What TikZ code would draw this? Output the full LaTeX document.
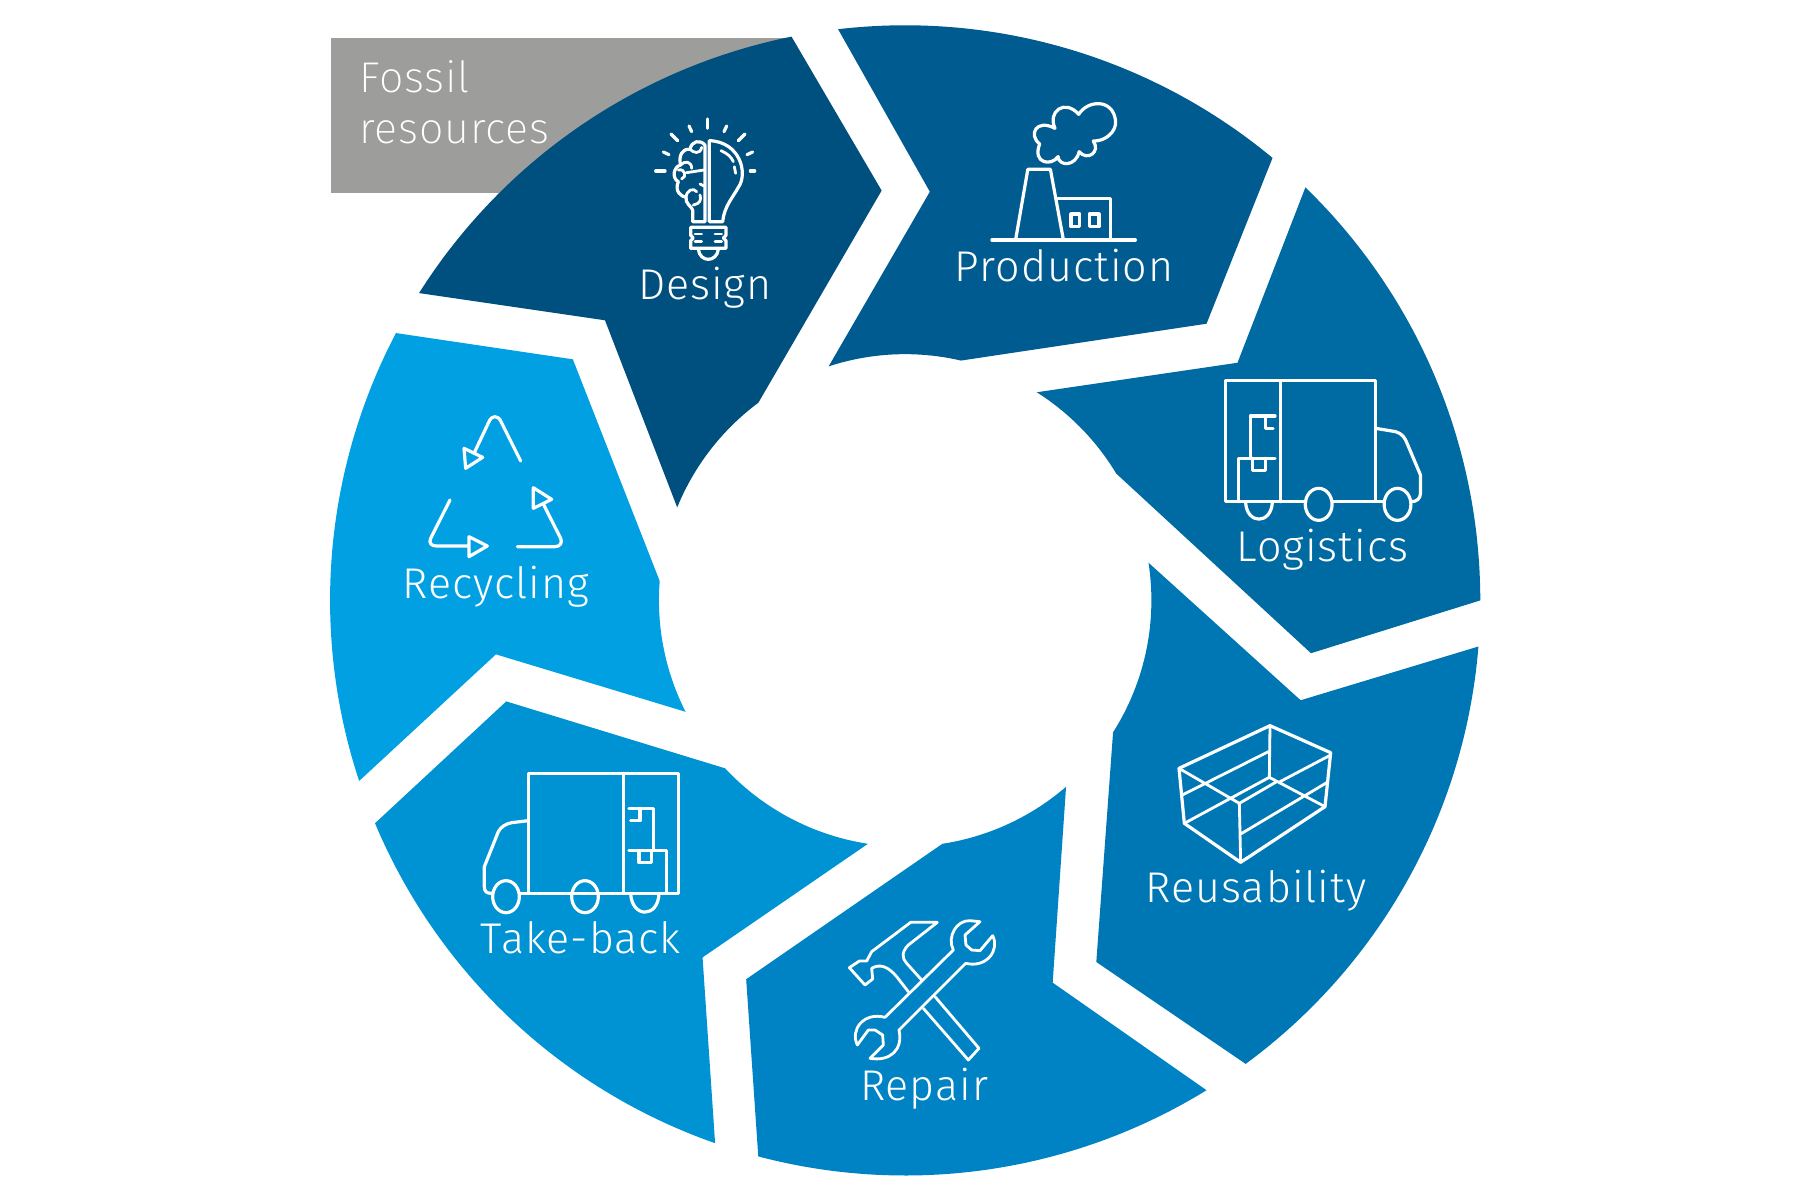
\documentclass[tikz,border=0pt]{standalone}
\usepackage{fontspec}
\setmainfont{Fira Sans Light}[LetterSpace=2.4]
\newfontfamily\thinfont{Fira Sans ExtraLight}[LetterSpace=1.8]
\definecolor{cDesign}{HTML}{00507F}
\definecolor{cProd}{HTML}{005C90}
\definecolor{cLog}{HTML}{006BA2}
\definecolor{cReuse}{HTML}{0077B5}
\definecolor{cRepair}{HTML}{0083C5}
\definecolor{cTake}{HTML}{0093D4}
\definecolor{cRecyc}{HTML}{00A0E3}
\definecolor{cGrey}{HTML}{9D9D9C}
\def\cxx{788.5}\def\cyy{523}\def\rout{501}\def\rin{214.5}
\newcommand\segm[7]{\fill[#1] plot[domain=#2:#3,samples=60]({\cxx+\rout*cos(\x)},{\cyy+\rout*sin(\x)}) -- #4 -- plot[domain=#5:#6,samples=30]({\cxx+\rin*cos(\x)},{\cyy+\rin*sin(\x)}) -- #7 -- cycle;}
\tikzset{
 lbl/.style={text=white,anchor=base,inner sep=0pt,font=\fontsize{43}{43}\selectfont},
 fossil/.style={text=white,anchor=base west,inner sep=0pt,font=\thinfont\fontsize{43}{43}\selectfont},
 icon/.style={draw=white,line width=3.2pt,line cap=round,line join=round},
 iconthin/.style={draw=white,line width=2.8pt,line cap=round,line join=round},
}
\begin{document}
\begin{tikzpicture}[x=1.14796pt,y=-1.14796pt]
\useasboundingbox (0,0) rectangle (1568,1045.33);
\fill[white] (0,0) rectangle (1568,1045.33);
\fill[cGrey] (288,33) rectangle (690,168);
\node[fossil] (fossil1) at (313,81) {Fossil};
\node[fossil] (fossil2) at (313,125) {resources};
% segments
\segm{cDesign}{258.6}{212.3}{(527,279)}{202.2}{233.4}{(768,166)}
\segm{cProd}{263.3}{309.7}{(1051,282)}{283.1}{251.9}{(810,167)}
\segm{cLog}{-45.9}{0}{(1142,569)}{-31}{-57.7}{(1078,316)}
\segm{cReuse}{4.6}{53.7}{(955,838)}{32.4}{-8.8}{(1133,610)}
\segm{cRepair}{58.4}{104.8}{(650,853)}{81.3}{49.2}{(917,856)}
\segm{cTake}{109.3}{157.2}{(441,611)}{137}{98.7}{(612,834)}
\segm{cRecyc}{161.7}{207.7}{(499,313)}{184.5}{153.1}{(432,570)}
% labels
\node[lbl] (design) at (614,261) {Design};
\node[lbl] (production) at (927,245) {Production};
\node[lbl] (logistics) at (1152,489) {Logistics};
\node[lbl] (reusability) at (1094,786) {Reusability};
\node[lbl] (repair) at (805,959) {Repair};
\node[lbl] (takeback) at (506,831) {Take-back};
\node[lbl] (recycling) at (432,521) {Recycling};
% bulb
\begin{scope}[shift={(650pt,-110pt)},x=0.33333pt,y=-0.33333pt]
\foreach \a/\b/\c/\d in {173/27/173/55,117/48/125/65,230/48/222/65,63/72/83/92,285/72/265/92,40/126/57/134,308/126/291/134,17/183/45/183,301/183/314/183}
  \draw[icon] (\a,\b)--(\c,\d);
\draw[icon] (178,92)--(178,335)--(218,335) .. controls (222,290) and (250,260) .. (265,232) .. controls (295,190) and (270,95) .. (178,92);
\draw[iconthin] (213,122) .. controls (232,130) and (245,142) .. (250,155);
\draw[iconthin] (253,170)--(257,190);
\draw[icon] (165,105)--(165,335)--(128,335)--(128,300) .. controls (125,290) and (105,280) .. (108,262) .. controls (95,260) and (72,245) .. (85,215) .. controls (65,205) and (70,170) .. (92,165) .. controls (85,140) and (95,115) .. (120,118) .. controls (125,92) and (150,88) .. (165,105);
\draw[iconthin] (120,118) .. controls (130,128) and (150,135) .. (155,112);
\draw[iconthin] (92,165) .. controls (105,150) and (125,155) .. (125,175);
\draw[iconthin] (85,180) .. controls (105,175) and (112,200) .. (95,207);
\draw[iconthin] (110,188)--(162,180);
\draw[iconthin] (108,262) .. controls (110,240) and (130,232) .. (140,245);
\draw[iconthin] (130,285) .. controls (150,282) and (155,268) .. (150,255);
\draw[iconthin] (150,222)--(162,228);
\draw[icon] (122,352)--(228,352)--(228,376)--(220,384)--(228,392)--(228,415)--(122,415)--(122,392)--(130,384)--(122,376)--cycle;
\draw[iconthin] (135,372)--(155,372) (195,372)--(215,372) (135,395)--(155,395) (195,395)--(215,395);
\draw[icon] (145,418) .. controls (150,458) and (200,458) .. (205,418);
\end{scope}
% factory
\begin{scope}[shift={(900pt,-80pt)},x=0.38270pt,y=-0.33333pt]
\draw[icon] (240,480)--(615,480);
\draw[icon] (302,480)--(334,268)--(393,268)--(427,480);
\draw[icon] (410,355)--(550,355)--(550,480);
\draw[icon] (447,402) rectangle (470,440);
\draw[icon] (495,402) rectangle (520,440);
\draw[icon] (405,145) .. controls (385,95) and (430,55) .. (467,103)
 .. controls (490,60) and (555,55) .. (563,120)
 .. controls (568,155) and (535,185) .. (505,183)
 .. controls (525,215) and (490,245) .. (468,215)
 .. controls (460,260) and (415,260) .. (413,230)
 .. controls (395,260) and (345,250) .. (365,192)
 .. controls (335,165) and (355,115) .. (405,145) -- cycle;
\end{scope}
% logistics truck
\begin{scope}[shift={(900pt,-80pt)},x=0.38270pt,y=-0.33333pt]
\draw[icon] (1060,1265)--(850,1265)--(850,902)--(1243,902)--(1243,1265)--(1130,1265);
\draw[icon] (1243,1265)--(1265,1265);
\draw[icon] (995,902)--(995,1265);
\draw[icon] (1094,1273) circle[x radius=35,y radius=48];
\draw[icon] (1300,1273) circle[x radius=35,y radius=48];
\draw[icon] (903,1265) .. controls (905,1335) and (971,1335) .. (973,1265);
\draw[icon] (1243,1045)--(1295,1055) .. controls (1312,1060) and (1320,1075) .. (1325,1090)--(1360,1185)--(1360,1240) .. controls (1360,1255) and (1350,1265) .. (1337,1265);
\draw[icon] (885,1265)--(885,1135)--(980,1135);
\draw[icon] (920,1135)--(920,1172)--(955,1172)--(955,1135);
\draw[icon] (915,1135)--(915,1008)--(980,1008);
\draw[icon] (955,1008)--(955,1045)--(975,1045);
\end{scope}
% box
\begin{scope}[shift={(1100pt,-680pt)},x=0.33333pt,y=-0.33333pt]
\draw[icon] (237,265)--(510,137)--(692,218)--(675,380)--(422,547)--(253,430)--cycle;
\draw[iconthin] (510,137)--(508,292) (237,265)--(418,370)--(422,547) (253,430)--(508,292)--(675,380) (247,345)--(505,215) (418,370)--(530,305) (540,305)--(692,225) (422,462)--(680,308);
\end{scope}
% tools
\begin{scope}[shift={(800pt,-880pt)},x=0.33333pt,y=-0.33333pt]
\draw[iconthin] (325,335)--(290,290) .. controls (265,260) and (240,250) .. (215,265) -- (218,297)--(195,315)--(148,263)--(178,243)--(200,243)--(215,215)--(332,127)--(412,127)--(325,195) .. controls (305,215) and (305,235) .. (320,250)--(365,300);
\draw[iconthin] (405,350)--(537,505)--(505,540)--(370,385);
\draw[iconthin] (255,412)--(460,210) .. controls (440,170) and (470,120) .. (510,122)--(540,125)--(495,165)--(498,195)--(515,210)--(540,212)--(578,167) .. controls (600,210) and (560,265) .. (497,250)--(297,450) .. controls (310,510) and (270,545) .. (210,535)--(250,495)--(248,465)--(225,450)--(205,450)--(172,495) .. controls (150,450) and (190,395) .. (255,412)--cycle;
\end{scope}
% take-back truck
\begin{scope}[shift={(440pt,-750pt)},x=0.33333pt,y=-0.33333pt]
\draw[icon] (395,430)--(715,430)--(715,70)--(265,70)--(265,430)--(240,430);
\draw[icon] (475,430)--(265,430);
\draw[icon] (550,70)--(550,430);
\draw[icon] (198,440) circle[x radius=40,y radius=48];
\draw[icon] (435,440) circle[x radius=40,y radius=48];
\draw[icon] (572,430) .. controls (575,505) and (655,505) .. (657,430);
\draw[icon] (265,212)--(215,218) .. controls (195,222) and (182,232) .. (175,245)--(133,350)--(133,410) .. controls (133,425) and (140,430) .. (155,430);
\draw[icon] (567,175)--(640,175)--(640,300);
\draw[icon] (600,175)--(600,212)--(572,212);
\draw[icon] (567,302)--(680,302)--(680,430);
\draw[icon] (597,302)--(597,338)--(635,338)--(635,302);
\end{scope}
% recycling
\begin{scope}[shift={(400pt,-400pt)},x=0.33333pt,y=-0.33333pt]
\draw[icon] (362,183)--(303,65) .. controls (295,45) and (275,45) .. (267,65)--(222,160);
\draw[icon] (192,145)--(248,172)--(197,205)--cycle;
\draw[icon] (150,300)--(92,415) .. controls (85,430) and (95,438) .. (110,438)--(205,438);
\draw[icon] (207,410)--(262,438)--(207,470)--cycle;
\draw[icon] (352,440)--(465,440) .. controls (480,440) and (488,428) .. (482,415)--(430,312);
\draw[icon] (400,263)--(455,298)--(400,325)--cycle;
\end{scope}
\end{tikzpicture}
\end{document}
